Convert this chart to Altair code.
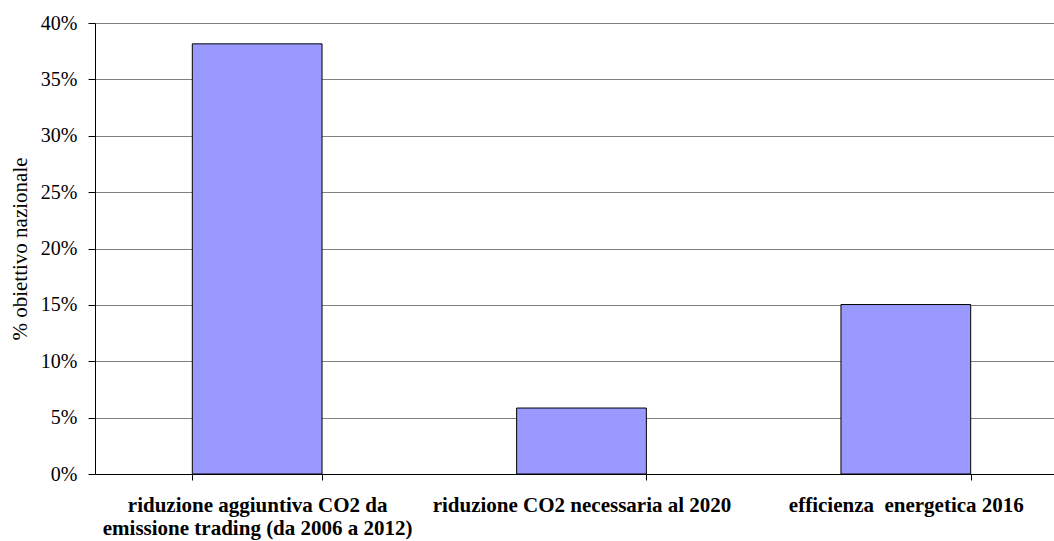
import altair as alt
import pandas as pd

# Share of the national target, by measure
categories = [
    "riduzione aggiuntiva CO2 da\nemissione trading (da 2006 a 2012)",
    "riduzione CO2 necessaria al 2020",
    "efficienza  energetica 2016",
]
values = [0.3815, 0.0585, 0.1503]
y_ticks = [0, 0.05, 0.10, 0.15, 0.20, 0.25, 0.30, 0.35, 0.40]

df = pd.DataFrame({"categoria": categories, "quota": values})

FONT = "Liberation Serif"

# keep double spaces visible (SVG collapses them) and break lines at "\n"
label_expr = "split(replace(datum.label, /  /g, ' \u00a0'), '\\n')"

chart = (
    alt.Chart(df)
    .mark_bar(color="#9999FF", stroke="#000000", strokeWidth=1)
    .encode(
        x=alt.X(
            "categoria:N",
            sort=categories,
            title=None,
            scale=alt.Scale(range=[0, 973], paddingInner=0.6, paddingOuter=0.3),
            axis=alt.Axis(
                labelAngle=0,
                labelExpr=label_expr,
                labelFont=FONT,
                labelFontSize=21,
                labelFontWeight="bold",
                labelColor="#000000",
                labelPadding=14,
                labelLineHeight=23,
                labelLimit=500,
                tickBand="extent",
                tickSize=6,
                tickColor="#000000",
                domainColor="#000000",
                grid=False,
            ),
        ),
        y=alt.Y(
            "quota:Q",
            scale=alt.Scale(domain=[0, 0.4], nice=False),
            axis=alt.Axis(
                title="% obiettivo nazionale",
                titleFont=FONT,
                titleFontSize=21,
                titleFontWeight="normal",
                titleColor="#000000",
                titlePadding=10,
                values=y_ticks,
                format=".0%",
                labelFont=FONT,
                labelFontSize=20,
                labelColor="#000000",
                labelPadding=11,
                tickSize=7,
                tickColor="#000000",
                domainColor="#000000",
                grid=True,
                gridColor="#808080",
                gridWidth=1,
            ),
        ),
    )
    .properties(
        width=959,
        height=451,
        autosize=alt.AutoSizeParams(type="none"),
        padding={"left": 95, "top": 23, "right": 0, "bottom": 67},
    )
    .configure_view(stroke=None)
    .configure(background="#ffffff")
)

chart.save("out.html", embed_options={"renderer": "svg", "actions": False})
